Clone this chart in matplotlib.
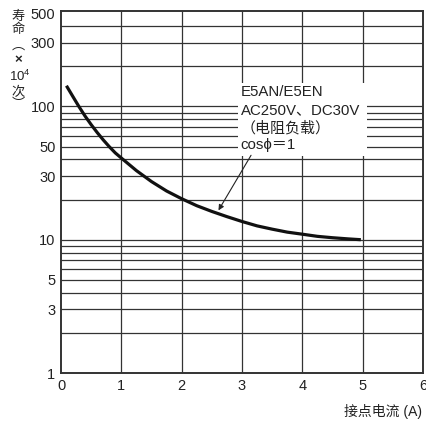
"""E5AN/E5EN contact life curve: life (x10^4 operations) vs contact current."""

import matplotlib
matplotlib.use('Agg')
import matplotlib.pyplot as plt
from matplotlib.patches import Rectangle

plt.rcParams['font.family'] = ['Liberation Sans', 'Noto Sans CJK SC', 'DejaVu Sans']
plt.rcParams['mathtext.default'] = 'regular'

# curve
current_a = [0.09, 0.2, 0.3, 0.4, 0.5, 0.6, 0.7, 0.8, 0.9, 1.0, 1.25, 1.5, 1.75,
             2.0, 2.25, 2.5, 2.75, 3.0, 3.25, 3.5, 3.75, 4.0, 4.25, 4.5, 4.75, 4.97]
life_1e4 = [143, 118, 99.3, 84.5, 73, 63.7, 56.1, 49.9, 44.8, 41, 33, 27.3, 23.2,
            20.3, 18.0, 16.3, 14.9, 13.7, 12.7, 12.0, 11.4, 11.0, 10.6, 10.35, 10.15, 10.0]

y_ticks = [1, 3, 5, 10, 30, 50, 100, 300, 500]
x_ticks = [0, 1, 2, 3, 4, 5, 6]
y_grid = [2, 3, 4, 5, 6, 7, 8, 9, 10, 20, 30, 40, 50, 60, 70, 80, 90, 100, 200, 300, 400]
x_grid = [1, 2, 3, 4, 5]

note_lines = ['E5AN/E5EN', 'AC250V、DC30V', '（电阻负载）', 'cosϕ＝1']
ylabel_chars = ['寿', '命', '︵', '×', '10$^{4}$', '次', '︶']
xlabel = '接点电流 (A)'

fig = plt.figure(figsize=(4.26, 4.23), dpi=100)
ax = fig.add_axes([61 / 426, 50 / 423, 362 / 426, 362 / 423])

ax.set_yscale('log')
ax.set_xlim(0, 6)
ax.set_ylim(1, 520)

for v in y_grid:
    ax.axhline(v, color='#333333', lw=0.9, zorder=1)
for v in x_grid:
    ax.axvline(v, color='#333333', lw=0.9, zorder=1)

# white box behind the note
ax.add_patch(Rectangle((2.93, 42.5), 2.14, 107, facecolor='white', edgecolor='none', zorder=2))

ax.plot(current_a, life_1e4, color='#111111', lw=2.3, zorder=4,
        solid_capstyle='butt', solid_joinstyle='round')

ys = [128.5, 94, 68.9, 51.4]
for txt, y in zip(note_lines, ys):
    ax.text(2.98, y, txt, fontsize=10.8, va='center', ha='left', zorder=5, color='#222222')

ax.annotate('', xy=(2.61, 16.6), xytext=(3.15, 43),
            arrowprops=dict(arrowstyle='-|>', color='#222222', lw=0.8,
                            mutation_scale=8, shrinkA=0, shrinkB=0), zorder=5)

ax.set_xticks(x_ticks)
ax.set_xticklabels([str(v) for v in x_ticks])
ax.set_yticks(y_ticks)
ax.set_yticklabels([str(v) for v in y_ticks])
ax.minorticks_off()
ax.tick_params(length=0, labelsize=10.5, colors='#222222', pad=4)
for s in ax.spines.values():
    s.set_color('#333333')
    s.set_linewidth(1.4)

fig.text(422 / 426, 1 - 411 / 423, xlabel, ha='right', va='center', fontsize=10, color='#222222')
for ch, y in zip(ylabel_chars, [17, 30, 46, 60, 76, 93, 105]):
    is_pow = ch.startswith('10')
    fig.text((20 if is_pow else 18) / 426, 1 - y / 423, ch, ha='center', va='center',
             fontsize=9.5, color='#222222',
             fontweight='bold' if ch == '×' else 'normal')

fig.savefig('out.png', dpi=100)
